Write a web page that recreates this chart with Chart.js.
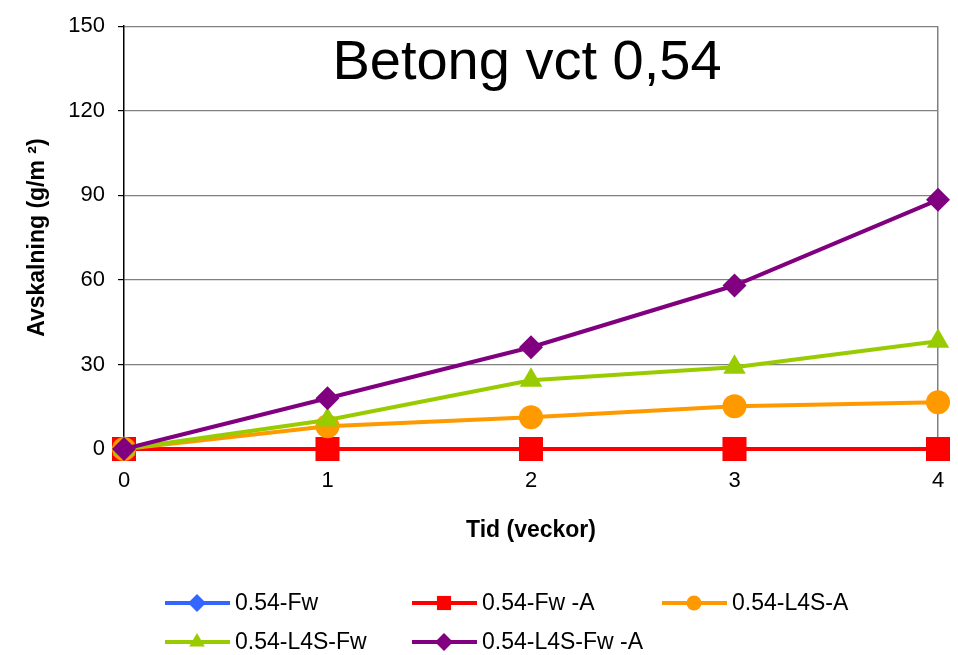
<!DOCTYPE html>
<html><head><meta charset="utf-8">
<script src="https://cdn.jsdelivr.net/npm/chart.js@4/dist/chart.umd.min.js"></script>
<style>html,body{margin:0;padding:0;background:#fff}#wrap{width:958px;height:655px}</style>
</head><body><div id="wrap"><canvas id="c" width="958" height="655"></canvas></div>
<script>
const categories = ['0', '1', '2', '3', '4'];
const seriesNames = ['0.54-Fw', '0.54-Fw -A', '0.54-L4S-A', '0.54-L4S-Fw', '0.54-L4S-Fw -A'];
const fw = [0, 0, 0, 0, 0];
const fwA = [0, 0, 0, 0, 0];
const l4sA = [0, 8.1, 11.3, 15.2, 16.6];
const l4sFw = [0, 10.3, 24.4, 29.0, 38.2];
const l4sFwA = [0, 18.0, 36.1, 58.0, 88.4];
const yMin = 0, yMax = 150, yStep = 30;
const chartTitle = 'Betong vct 0,54';
const xTitle = 'Tid (veckor)';
const yTitle = 'Avskalning (g/m \u00B2)';

const FONT = "'Liberation Sans', Arial, sans-serif";
Chart.defaults.font.family = FONT;
Chart.defaults.color = '#000';

const styles = [
  {color: '#3366FF', point: 'rectRot', r: 12, lr: 9, order: 5},
  {color: '#FF0000', point: 'rect', r: 17, lr: 10, order: 4},
  {color: '#FF9900', point: 'circle', r: 12, lr: 7.5, order: 3},
  {color: '#99CC00', point: 'triangle', r: 13, lr: 9, order: 2},
  {color: '#800080', point: 'rectRot', r: 12, lr: 9, order: 1}
];
const values = [fw, fwA, l4sA, l4sFw, l4sFwA];

const datasets = values.map((v, i) => ({
  label: seriesNames[i],
  data: v,
  borderColor: styles[i].color,
  backgroundColor: styles[i].color,
  borderWidth: 4,
  pointStyle: styles[i].point,
  pointRadius: styles[i].r,
  pointHoverRadius: styles[i].r,
  pointBorderWidth: 0,
  pointBackgroundColor: styles[i].color,
  order: styles[i].order,
  clip: false,
  tension: 0
}));

const overlay = {
  id: 'overlay',
  afterDraw(chart) {
    const ctx = chart.ctx, a = chart.chartArea;
    ctx.save();
    // inner title
    ctx.fillStyle = '#000';
    ctx.font = '56px ' + FONT;
    ctx.textAlign = 'center';
    ctx.textBaseline = 'middle';
    ctx.fillText(chartTitle, (a.left + a.right) / 2 - 4, a.top + 37);
    // legend
    const cols = [165, 412, 662];
    const rows = [603, 642];
    ctx.font = '23px ' + FONT;
    ctx.textAlign = 'left';
    seriesNames.forEach((name, i) => {
      const x = cols[i % 3], y = rows[Math.floor(i / 3)];
      const s = styles[i];
      ctx.strokeStyle = s.color;
      ctx.lineWidth = 4;
      ctx.beginPath(); ctx.moveTo(x, y); ctx.lineTo(x + 65, y); ctx.stroke();
      ctx.fillStyle = s.color;
      Chart.helpers.drawPoint(ctx, {pointStyle: s.point, radius: s.lr, rotation: 0, borderWidth: 0}, x + 32, y);
      ctx.fillStyle = '#000';
      ctx.textBaseline = 'middle';
      ctx.fillText(name, x + 70, y + 1);
    });
    ctx.restore();
  }
};

new Chart(document.getElementById('c'), {
  type: 'line',
  data: {labels: categories, datasets},
  options: {
    responsive: false,
    animation: false,
    layout: {autoPadding: false, padding: {left: 0, right: 20, top: 25, bottom: 100}},
    plugins: {legend: {display: false}, tooltip: {enabled: false}, title: {display: false}},
    scales: {
      x: {
        offset: false,
        grid: {
          drawTicks: false,
          color: (c) => c.index === categories.length - 1 ? '#808080' : 'rgba(0,0,0,0)',
          lineWidth: 1.5
        },
        border: {display: true, color: '#000', width: 1.5},
        ticks: {font: {size: 22}, padding: 19, maxRotation: 0},
        title: {display: true, text: xTitle, font: {size: 23, weight: 'bold'}, padding: {top: 0, bottom: 11}},
        afterFit(s) { s.height = 106; s.paddingRight = 10; s.paddingLeft = 0; }
      },
      y: {
        min: yMin, max: yMax,
        ticks: {stepSize: yStep, font: {size: 22}, padding: 13},
        grid: {color: '#808080', lineWidth: 1.2, tickLength: 6, tickColor: '#000'},
        border: {display: true, color: '#000', width: 1.5},
        title: {display: true, text: yTitle, font: {size: 23, weight: 'bold'}, padding: {top: 24, bottom: 0}},
        afterFit(s) { s.width = 124; }
      }
    }
  },
  plugins: [overlay]
});
</script></body></html>
